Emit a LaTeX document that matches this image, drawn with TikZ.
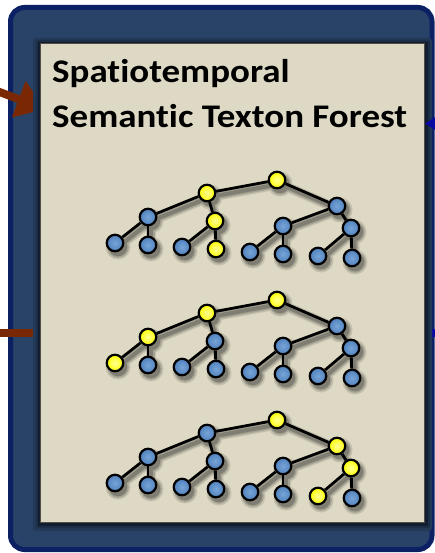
\documentclass[tikz,border=0pt]{standalone}
\usepackage{fontspec}
\setmainfont{Carlito}[Ligatures=NoCommon]
\newfontfamily\titlefont{Carlito}[Ligatures=NoCommon, FakeStretch=1.12]
\usetikzlibrary{arrows.meta}
\definecolor{slate}{RGB}{41,67,104}
\definecolor{navyb}{RGB}{12,32,100}
\definecolor{beige}{RGB}{221,217,196}
\definecolor{pborder}{RGB}{80,78,70}
\definecolor{brownar}{RGB}{122,40,4}
\definecolor{bluear}{RGB}{10,10,160}
\definecolor{nblue}{RGB}{79,129,189}
\definecolor{nblueL}{RGB}{120,165,215}
\definecolor{nyel}{RGB}{255,255,0}
\definecolor{nyelL}{RGB}{255,255,150}
\colorlet{sh1}{beige!88!black}
\colorlet{sh2}{beige!74!black}
\colorlet{sh3}{beige!58!black}
\pgfdeclarelayer{back}
\pgfdeclarelayer{shad}
\pgfdeclarelayer{edges}
\pgfsetlayers{back,shad,edges,main}
\tikzset{
  tnode/.style={circle, draw=black, line width=2.2pt, minimum size=16.5pt, inner sep=0pt},
  bn/.style={tnode, inner color=nblueL, outer color=nblue},
  yn/.style={tnode, inner color=nyelL, outer color=nyel},
  edge/.style={draw=black, line width=2.8pt},
  ttl/.style={anchor=base west, inner sep=0pt, font=\titlefont\fontsize{33}{40}\selectfont\bfseries},
}
\newcommand\mytree[2]{%
\begin{scope}[shift={(0,#2)}]
\node[cR] (#1R) at (277,180) {};
\node[cP] (#1P) at (207,193) {};
\node[cQ] (#1Q) at (337,206) {};
\node[cA] (#1A) at (148,217) {};
\node[cB] (#1B) at (215,221) {};
\node[cC] (#1C) at (283,226) {};
\node[cD] (#1D) at (351,228) {};
\node[ca1] (#1a1) at (115,243) {};
\node[ca2] (#1a2) at (148,245) {};
\node[cb1] (#1b1) at (182,247) {};
\node[cb2] (#1b2) at (216,249) {};
\node[cc1] (#1c1) at (250,252) {};
\node[cc2] (#1c2) at (283,254) {};
\node[cd1] (#1d1) at (318,256) {};
\node[cd2] (#1d2) at (352,258) {};
\end{scope}
\begin{pgfonlayer}{edges}
\foreach \u/\v in {R/P,R/Q,P/A,P/B,Q/C,Q/D,A/a1,A/a2,B/b1,B/b2,C/c1,C/c2,D/d1,D/d2}
  \draw[edge] (#1\u) -- (#1\v);
\end{pgfonlayer}
\begin{pgfonlayer}{shad}
\foreach \col/\r/\w in {sh1/12.5/10, sh2/10.8/7, sh3/9.3/4}{
  \foreach \u/\v in {R/P,R/Q,P/A,P/B,Q/C,Q/D,A/a1,A/a2,B/b1,B/b2,C/c1,C/c2,D/d1,D/d2}
    \draw[\col, line width=\w pt, line cap=round] ([shift={(3,4)}]#1\u.center) -- ([shift={(3,4)}]#1\v.center);
  \foreach \n in {R,P,Q,A,B,C,D,a1,a2,b1,b2,c1,c2,d1,d2}
    \fill[\col] ([shift={(3,4)}]#1\n.center) circle (\r pt);
}
\end{pgfonlayer}
}
\begin{document}
\begin{tikzpicture}[x=1pt,y=-1pt]
\useasboundingbox (0,0) rectangle (434,553);
\begin{pgfonlayer}{back}
% outer box
\draw[navyb, line width=5pt, fill=slate, rounded corners=14pt] (10.5,7.5) rectangle (432,549.5);
% connectors entering the panel
\draw[brownar, line width=8pt, -{Triangle[length=28pt,width=37pt]}] (-30,81) -- (45,109);
\draw[brownar, line width=8pt] (-5,333) -- (60,333);
\draw[bluear, line width=8pt] (400,332.5) -- (440,332.5);
% panel shadow
\fill[slate!85!black, rounded corners=3pt] (33,38) rectangle (432,531);
\fill[slate!68!black, rounded corners=2pt] (36,40) rectangle (430,528);
\fill[slate!45!black] (38,42) rectangle (428,526);
% panel
\draw[pborder, line width=1.6pt, fill=beige] (40.5,43.5) rectangle (424.5,522.5);
\end{pgfonlayer}
\fill[bluear] (425,123.5) -- (436,116.5) -- (436,130.5) -- cycle;
\node[ttl] (t1) at (52,83) {Spatiotemporal};
\node[ttl] (t2) at (52,128) {Semantic Texton Forest};
% tree 1
\tikzset{cR/.style=yn,cP/.style=yn,cQ/.style=bn,cA/.style=bn,cB/.style=yn,cC/.style=bn,cD/.style=bn,
 ca1/.style=bn,ca2/.style=bn,cb1/.style=bn,cb2/.style=yn,cc1/.style=bn,cc2/.style=bn,cd1/.style=bn,cd2/.style=bn}
\mytree{f}{0}
% tree 2
\tikzset{cR/.style=yn,cP/.style=yn,cQ/.style=bn,cA/.style=yn,cB/.style=bn,cC/.style=bn,cD/.style=bn,
 ca1/.style=yn,ca2/.style=bn,cb1/.style=bn,cb2/.style=bn,cc1/.style=bn,cc2/.style=bn,cd1/.style=bn,cd2/.style=bn}
\mytree{g}{120}
% tree 3
\tikzset{cR/.style=yn,cP/.style=bn,cQ/.style=yn,cA/.style=bn,cB/.style=bn,cC/.style=bn,cD/.style=yn,
 ca1/.style=bn,ca2/.style=bn,cb1/.style=bn,cb2/.style=bn,cc1/.style=bn,cc2/.style=bn,cd1/.style=yn,cd2/.style=bn}
\mytree{h}{240}
\end{tikzpicture}
\end{document}
